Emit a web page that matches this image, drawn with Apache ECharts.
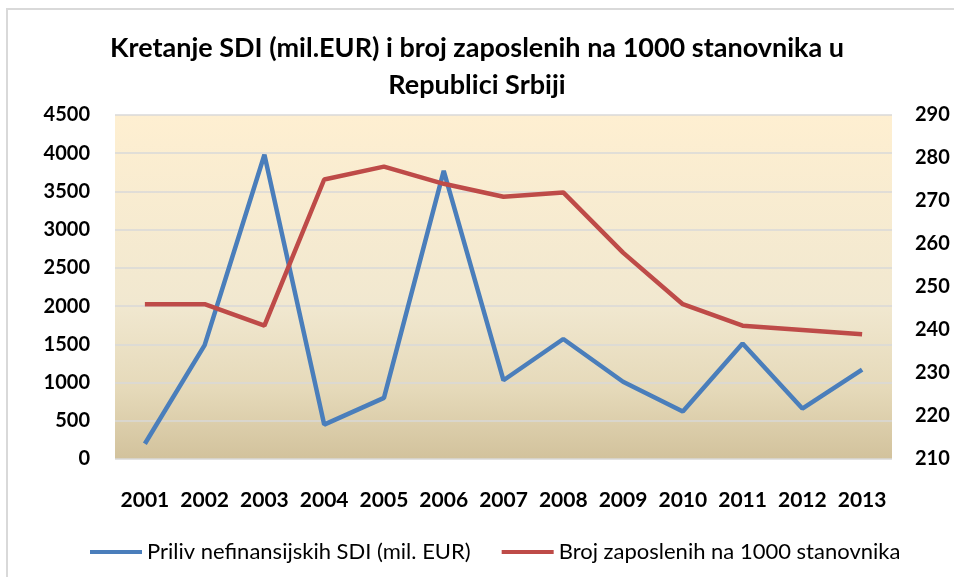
<!DOCTYPE html>
<html>
<head>
<meta charset="utf-8">
<script src="https://cdn.jsdelivr.net/npm/echarts@6/dist/echarts.min.js"></script>
<style>
html,body{margin:0;padding:0;background:#fff;}
#c{width:954px;height:577px;}
</style>
</head>
<body>
<div id="c"></div>
<script>
const categories = ['2001','2002','2003','2004','2005','2006','2007','2008','2009','2010','2011','2012','2013'];
const sdiValues = [200, 1490, 3980, 450, 800, 3770, 1030, 1570, 1010, 620, 1510, 660, 1170];
const employedValues = [246, 246, 241, 275, 278, 274, 271, 272, 258, 246, 241, 240, 239];
const leftTicks = {min: 0, max: 4500, interval: 500};
const rightTicks = {min: 210, max: 290, interval: 10};
const seriesNames = ['Priliv nefinansijskih SDI (mil. EUR)', 'Broj zaposlenih na 1000 stanovnika'];
const titleText = 'Kretanje SDI (mil.EUR) i broj zaposlenih na 1000 stanovnika u\nRepublici Srbiji';

const FONT = 'Lato';
const chart = echarts.init(document.getElementById('c'), null, {renderer: 'canvas'});
chart.setOption({
  animation: false,
  backgroundColor: '#ffffff',
  graphic: [{
    type: 'rect',
    shape: {x: 7, y: 9, width: 1000, height: 620},
    style: {fill: 'none', stroke: '#d9d9d9', lineWidth: 2},
    silent: true, z: -1
  }],
  title: {
    text: titleText,
    left: 'center',
    top: 25,
    padding: [5, 5, 5, 29],
    textStyle: {fontFamily: FONT, fontWeight: 'bold', fontSize: 27, lineHeight: 37, color: '#000'}
  },
  legend: {
    left: 85,
    top: 536,
    itemWidth: 52,
    itemHeight: 4,
    itemGap: 31,
    icon: 'rect',
    textStyle: {fontFamily: FONT, fontSize: 22, color: '#000'},
    data: seriesNames
  },
  grid: {
    left: 115, right: 62, top: 115, bottom: 118,
    show: true,
    borderWidth: 0,
    backgroundColor: new echarts.graphic.LinearGradient(0, 0, 0, 1, [
      {offset: 0, color: '#feefd1'},
      {offset: 0.55, color: '#f1e8d0'},
      {offset: 0.8, color: '#e5d9b9'},
      {offset: 1, color: '#d2c29c'}
    ])
  },
  xAxis: {
    type: 'category',
    data: categories,
    boundaryGap: true,
    axisLine: {show: false},
    axisTick: {show: false},
    axisLabel: {fontFamily: FONT, fontWeight: 'bold', fontSize: 21, lineHeight: 20, color: '#000', margin: 31, interval: 0}
  },
  yAxis: [{
    type: 'value',
    min: leftTicks.min, max: leftTicks.max, interval: leftTicks.interval,
    axisLine: {show: false}, axisTick: {show: false},
    splitLine: {show: true, lineStyle: {color: '#d9d9d9', width: 1.5}},
    axisLabel: {fontFamily: FONT, fontWeight: 'bold', fontSize: 20, color: '#000', margin: 25, formatter: v => String(v)}
  }, {
    type: 'value',
    position: 'right',
    min: rightTicks.min, max: rightTicks.max, interval: rightTicks.interval,
    axisLine: {show: false}, axisTick: {show: false},
    splitLine: {show: false},
    axisLabel: {fontFamily: FONT, fontWeight: 'bold', fontSize: 20, color: '#000', margin: 23, formatter: v => String(v)}
  }],
  series: [{
    name: seriesNames[0],
    type: 'line',
    yAxisIndex: 0,
    data: sdiValues,
    symbol: 'none',
    lineStyle: {color: '#4a7ebb', width: 4.5},
    itemStyle: {color: '#4a7ebb'}
  }, {
    name: seriesNames[1],
    type: 'line',
    yAxisIndex: 1,
    data: employedValues,
    symbol: 'none',
    lineStyle: {color: '#be4b48', width: 4.5},
    itemStyle: {color: '#be4b48'}
  }]
});
</script>
</body>
</html>
